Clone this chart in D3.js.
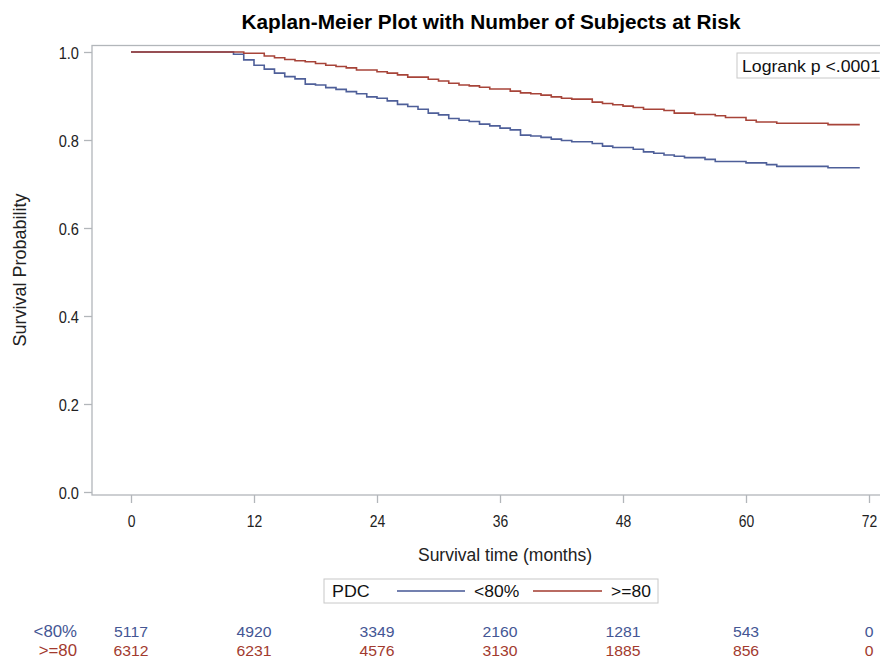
<!DOCTYPE html>
<html><head><meta charset="utf-8">
<script src="https://cdn.jsdelivr.net/npm/d3@7"></script>
<style>body{margin:0;background:#fff}text{font-family:"Liberation Sans",Arial,sans-serif}</style>
</head><body>
<script>
const groups = ["<80%", ">=80"];
const colors = ["#445694", "#A23A2E"];
const xTicks = [0, 12, 24, 36, 48, 60, 72];
const yTicks = [0, 0.2, 0.4, 0.6, 0.8, 1.0];
const timesLow = [0,10,11,12,13,14,15,16,17,18,19,20,21,22,23,24,25,26,27,28,29,30,31,32,33,34,35,36,37,38,39,40,41,42,43,45,46,47,49,50,51,52,53,54,56,57,60,62,63,68,71.1];
const survLow  = [1.0,0.995,0.982,0.970,0.961,0.952,0.944,0.939,0.927,0.925,0.919,0.915,0.910,0.905,0.898,0.895,0.889,0.881,0.876,0.870,0.861,0.857,0.849,0.845,0.842,0.836,0.832,0.827,0.823,0.811,0.809,0.806,0.802,0.799,0.796,0.792,0.786,0.783,0.779,0.773,0.770,0.766,0.763,0.760,0.756,0.751,0.748,0.744,0.740,0.737,0.737];
const timesHigh = [0,11,13,14,15,16,17,18,19,20,21,22,24,25,26,27,29,30,31,32,33,34,35,37,38,39,40,41,42,43,45,46,47,48,49,50,52,53,55,57,58,60,61,63,68,71.1];
const survHigh  = [1.0,0.997,0.991,0.987,0.983,0.980,0.978,0.974,0.970,0.967,0.964,0.959,0.955,0.952,0.948,0.943,0.938,0.934,0.929,0.925,0.923,0.920,0.916,0.911,0.907,0.905,0.902,0.898,0.895,0.893,0.886,0.883,0.880,0.877,0.874,0.870,0.867,0.861,0.858,0.855,0.851,0.845,0.841,0.838,0.835,0.835];
const atRiskLow  = [5117, 4920, 3349, 2160, 1281, 543, 0];
const atRiskHigh = [6312, 6231, 4576, 3130, 1885, 856, 0];

const W = 880, H = 659;
const svg = d3.select("body").append("svg").attr("width", W).attr("height", H);
svg.append("rect").attr("width", W).attr("height", H).attr("fill", "#fff");

const x = d3.scaleLinear().domain([0, 72]).range([131, 869]);
const y = d3.scaleLinear().domain([0, 1]).range([492, 52]);
const frame = {l: 92, t: 45.5, r: 884, b: 495};
const SX = 0.82;

function txt(g, tx, ty, s, opts) {
  opts = opts || {};
  const sx = opts.sx || SX;
  const t = g.append("text")
    .attr("transform", `translate(${tx},${ty})` + (opts.rot ? ` rotate(${opts.rot})` : "") + ` scale(${sx},1)`)
    .attr("text-anchor", opts.anchor || "start")
    .attr("font-size", opts.size || 16)
    .attr("fill", opts.fill || "#000")
    .text(s);
  if (opts.bold) t.attr("font-weight", "bold");
  return t;
}

// title
txt(svg, 491, 29, "Kaplan-Meier Plot with Number of Subjects at Risk", {anchor: "middle", size: 20, bold: true, sx: 1.04});

// frame
svg.append("rect").attr("x", frame.l).attr("y", frame.t).attr("width", frame.r - frame.l).attr("height", frame.b - frame.t)
  .attr("fill", "none").attr("stroke", "#b2b6ba").attr("stroke-width", 1.3);

// y axis
const yAxis = svg.append("g").attr("transform", `translate(${frame.l},0)`)
  .call(d3.axisLeft(y).tickValues(yTicks).tickSize(8).tickFormat(d3.format(".1f")));
yAxis.select(".domain").remove();
yAxis.selectAll(".tick line").attr("stroke", "#b2b6ba").attr("stroke-width", 1.3);
yAxis.selectAll(".tick text").each(function() {
  const t = d3.select(this);
  t.attr("x", null).attr("dy", null).attr("transform", `translate(-13,6) scale(0.86,1)`)
   .attr("font-size", 17).attr("font-family", "Liberation Sans, Arial, sans-serif").attr("fill", "#222");
});

// x axis
const xAxis = svg.append("g").attr("transform", `translate(0,${frame.b})`)
  .call(d3.axisBottom(x).tickValues(xTicks).tickSize(8).tickFormat(d3.format("d")));
xAxis.select(".domain").remove();
xAxis.selectAll(".tick line").attr("stroke", "#b2b6ba").attr("stroke-width", 1.3);
xAxis.selectAll(".tick text").each(function() {
  const t = d3.select(this);
  t.attr("y", null).attr("dy", null).attr("transform", `translate(0,32) scale(0.82,1)`)
   .attr("font-size", 17).attr("font-family", "Liberation Sans, Arial, sans-serif").attr("fill", "#222");
});

// axis labels
txt(svg, 26, 270, "Survival Probability", {anchor: "middle", size: 18, rot: -90, sx: 1.0, fill: "#222"});
txt(svg, 505, 561, "Survival time (months)", {anchor: "middle", size: 17.5, sx: 1.0, fill: "#222"});

// curves
const line = d3.line().x(d => x(d[0])).y(d => y(d[1])).curve(d3.curveStepAfter);
const series = [d3.zip(timesLow, survLow), d3.zip(timesHigh, survHigh)];
series.forEach((s, i) => {
  svg.append("path").datum(s).attr("d", line).attr("fill", "none")
    .attr("stroke", colors[i]).attr("stroke-width", 1.6).attr("stroke-opacity", 0.95);
});

// logrank box
svg.append("rect").attr("x", 737).attr("y", 53).attr("width", 150).attr("height", 25)
  .attr("fill", "#fff").attr("stroke", "#c8c8c8").attr("stroke-width", 1);
txt(svg, 742, 72, "Logrank p <.0001", {size: 17, sx: 1.04, fill: "#111"});

// legend
const lg = svg.append("g");
lg.append("rect").attr("x", 324).attr("y", 579).attr("width", 334).attr("height", 24)
  .attr("fill", "#fff").attr("stroke", "#c8c8c8").attr("stroke-width", 1);
txt(lg, 332, 597, "PDC", {size: 17, sx: 1.05, fill: "#111"});
const legX = [[397, 465, 474], [533, 602, 611]];
groups.forEach((g, i) => {
  lg.append("line").attr("x1", legX[i][0]).attr("x2", legX[i][1]).attr("y1", 591).attr("y2", 591)
    .attr("stroke", colors[i]).attr("stroke-width", 1.5);
  txt(lg, legX[i][2], 597, g, {size: 17, sx: 1.03, fill: "#111"});
});

// at-risk table
const rows = [atRiskLow, atRiskHigh];
const rowY = [637, 655.5];
rows.forEach((r, i) => {
  txt(svg, 77, rowY[i], groups[i], {anchor: "end", size: 16, sx: 1.05, fill: colors[i]});
  r.forEach((v, j) => {
    txt(svg, x(xTicks[j]), rowY[i], String(v), {anchor: "middle", size: 15, sx: 1.05, fill: colors[i]});
  });
});
</script>
</body></html>
